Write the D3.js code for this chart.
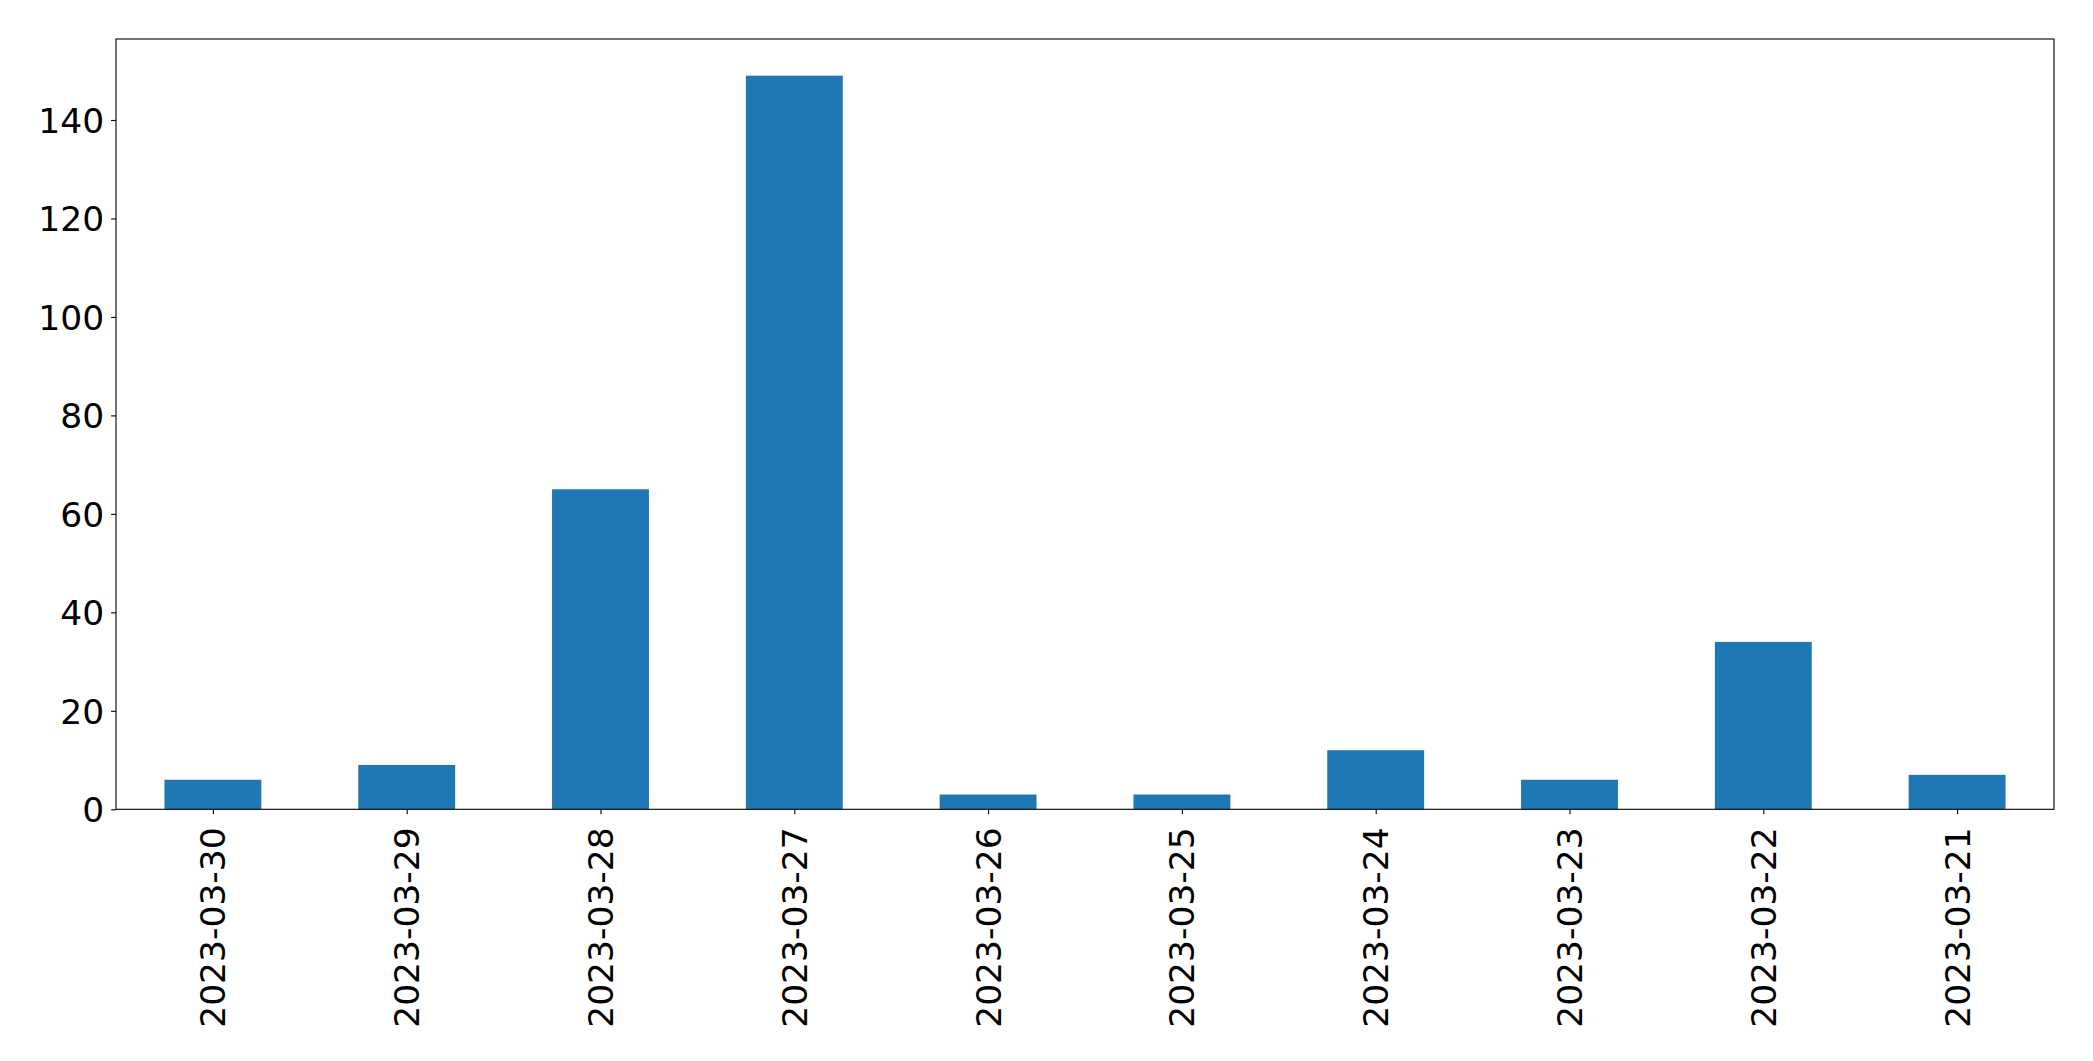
<!DOCTYPE html>
<html>
<head>
<meta charset="utf-8">
<script src="https://cdn.jsdelivr.net/npm/d3@7"></script>
<style>
  html, body { margin: 0; padding: 0; background: #fff; }
  svg { display: block; }
  text { font-family: "DejaVu Sans", sans-serif; fill: #000; }
</style>
</head>
<body>
<svg id="chart" width="2093" height="1061"></svg>
<script>
const categories = ["2023-03-30","2023-03-29","2023-03-28","2023-03-27","2023-03-26","2023-03-25","2023-03-24","2023-03-23","2023-03-22","2023-03-21"];
const values = [6, 9, 65, 149, 3, 3, 12, 6, 34, 7];
const yTicks = [0, 20, 40, 60, 80, 100, 120, 140];

const W = 2093, H = 1061;
const margin = { left: 116, right: W - 2054, top: 39, bottom: H - 809.3 };
const svg = d3.select("#chart");
const pw = W - margin.left - margin.right;
const ph = H - margin.top - margin.bottom;
const g = svg.append("g").attr("transform", `translate(${margin.left},${margin.top})`);

const x = d3.scaleLinear().domain([-0.5, categories.length - 0.5]).range([0, pw]);
const y = d3.scaleLinear().domain([0, d3.max(values) * 1.05]).range([ph, 0]);
const barW = 0.5;

g.selectAll("rect.bar").data(values).enter().append("rect")
  .attr("class", "bar")
  .attr("x", (d, i) => x(i - barW / 2))
  .attr("width", (d, i) => x(i + barW / 2) - x(i - barW / 2))
  .attr("y", d => y(d))
  .attr("height", d => y(0) - y(d))
  .attr("fill", "#1f77b4");

// Y axis
const yAxis = d3.axisLeft(y).tickValues(yTicks).tickSize(4.9).tickPadding(7).tickFormat(d3.format("d"));
const yg = g.append("g").call(yAxis);
yg.select(".domain").remove();
yg.selectAll(".tick line").attr("stroke", "#000").attr("stroke-width", 1.1);
yg.selectAll(".tick text").style("font-size", "34.5px").attr("dy", "0.36em");

// X axis
const xAxis = d3.axisBottom(x).tickValues(d3.range(categories.length)).tickSize(4.9).tickFormat(i => categories[i]);
const xg = g.append("g").attr("transform", `translate(0,${ph})`).call(xAxis);
xg.select(".domain").remove();
xg.selectAll(".tick line").attr("stroke", "#000").attr("stroke-width", 1.1);
xg.selectAll(".tick text")
  .style("font-size", "34.5px")
  .attr("text-anchor", "end")
  .attr("x", 0).attr("y", 0).attr("dy", "0.35em")
  .attr("transform", "translate(0,18) rotate(-90)");

// Frame
g.append("rect").attr("x", 0).attr("y", 0).attr("width", pw).attr("height", ph)
  .attr("fill", "none").attr("stroke", "#000").attr("stroke-width", 1.1);
</script>
</body>
</html>
